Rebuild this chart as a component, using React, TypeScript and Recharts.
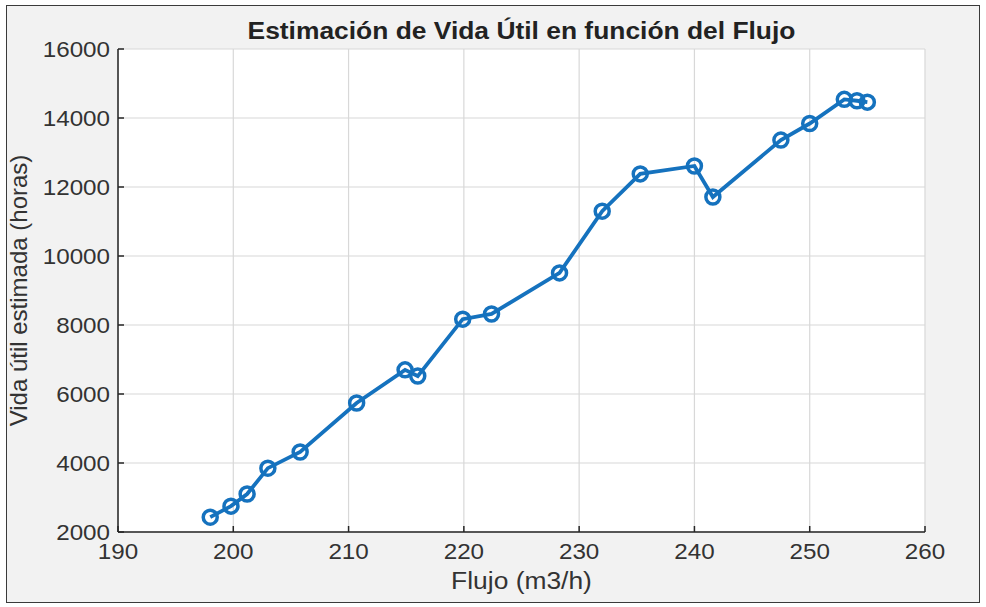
import { LineChart, Line, XAxis, YAxis, CartesianGrid, Label } from 'recharts'

const flujo = [198.0, 199.8, 201.2, 203.0, 205.8, 210.7, 214.9, 216.0, 219.9, 222.4, 228.3, 232.0, 235.3, 240.0, 241.6, 247.5, 250.0, 253.0, 254.1, 255.0]
const vida = [2430, 2750, 3100, 3850, 4320, 5740, 6700, 6520, 8170, 8320, 9510, 11300, 12380, 12610, 11710, 13360, 13840, 14540, 14500, 14460]
const xTicks = [190, 200, 210, 220, 230, 240, 250, 260]
const yTicks = [2000, 4000, 6000, 8000, 10000, 12000, 14000, 16000]

const data = flujo.map((f, i) => ({ flujo: f, vida: vida[i] }))

const blue = '#1572be'
const axisColor = '#262626'
const textColor = '#333333'
const font = '"Liberation Sans", Arial, sans-serif'
const stretch = 1.1

// MATLAB-like ticks: label outside, short tick mark pointing into the plot
const BottomTick = ({ x, y, payload }: any) => (
  <g>
    <line x1={x} y1={y - 6} x2={x} y2={y} stroke={axisColor} strokeWidth={1.5} />
    <text transform={`translate(${x},${y + 27}) scale(${stretch},1)`} textAnchor="middle"
      fill={textColor} fontSize={22} fontFamily={font}>{payload.value}</text>
  </g>
)

const LeftTick = ({ x, y, payload }: any) => (
  <g>
    <line x1={x} y1={y} x2={x + 6} y2={y} stroke={axisColor} strokeWidth={1.5} />
    <text transform={`translate(${x - 8},${y + 8}) scale(${stretch},1)`} textAnchor="end"
      fill={textColor} fontSize={22} fontFamily={font}>{payload.value}</text>
  </g>
)

const TopTick = ({ x, y }: any) => (
  <line x1={x} y1={y} x2={x} y2={y + 6} stroke={axisColor} strokeWidth={1.5} />
)

const RightTick = ({ x, y }: any) => (
  <line x1={x - 6} y1={y} x2={x} y2={y} stroke={axisColor} strokeWidth={1.5} />
)

export default function App() {
  return (
    <div style={{ position: 'absolute', left: 0, top: 0, width: 986, height: 607, fontFamily: font }}>
      <div style={{
        position: 'absolute', left: 6, top: 5, width: 972, height: 596,
        background: '#f2f2f2', border: '1px solid #3a3a3a',
      }} />
      <div style={{ position: 'absolute', left: 0, top: 0 }}>
        <LineChart width={986} height={607} data={data} margin={{ top: 49, right: 61, bottom: 0, left: 0 }}>
          <CartesianGrid xAxisId="b" yAxisId="l" stroke="#d8d8d8" strokeWidth={1.2} fill="#ffffff" />
          <XAxis
            xAxisId="b" dataKey="flujo" type="number" domain={[190, 260]} ticks={xTicks}
            height={75} tickSize={0} tickMargin={0} tickLine={false} interval={0}
            axisLine={{ stroke: axisColor, strokeWidth: 1.5 }} tick={<BottomTick />}
          >
            <Label content={({ viewBox }: any) => (
              <text transform={`translate(${viewBox.x + viewBox.width / 2},589) scale(${stretch},1)`}
                textAnchor="middle" fill={textColor} fontSize={24} fontFamily={font}>Flujo (m3/h)</text>
            )} />
          </XAxis>
          <XAxis xAxisId="t" orientation="top" dataKey="flujo" type="number" domain={[190, 260]} ticks={xTicks}
            height={0} tickSize={0} tickLine={false} interval={0} tick={<TopTick />}
            axisLine={{ stroke: axisColor, strokeWidth: 1.5 }} />
          <YAxis
            yAxisId="l" type="number" domain={[2000, 16000]} ticks={yTicks} width={118}
            tickSize={0} tickMargin={0} tickLine={false} interval={0}
            axisLine={{ stroke: axisColor, strokeWidth: 1.5 }} tick={<LeftTick />}
          >
            <Label content={({ viewBox }: any) => (
              <text transform={`translate(27,${viewBox.y + viewBox.height / 2}) rotate(-90)`}
                textAnchor="middle" fill={textColor} fontSize={24} fontFamily={font}>Vida útil estimada (horas)</text>
            )} />
          </YAxis>
          <YAxis yAxisId="r" orientation="right" type="number" domain={[2000, 16000]} ticks={yTicks}
            width={0} tickSize={0} tickLine={false} interval={0} tick={<RightTick />}
            axisLine={{ stroke: axisColor, strokeWidth: 1.5 }} />
          <Line
            xAxisId="b" yAxisId="l" dataKey="vida" stroke={blue} strokeWidth={3.8}
            dot={{ r: 7, stroke: blue, strokeWidth: 3.5, fill: 'none' }}
            isAnimationActive={false}
          />
          <text transform="translate(521.5,39) scale(1.1,1)" textAnchor="middle" fill="#222222"
            fontSize={24} fontWeight="bold" fontFamily={font}>
            Estimación de Vida Útil en función del Flujo
          </text>
        </LineChart>
      </div>
    </div>
  )
}
